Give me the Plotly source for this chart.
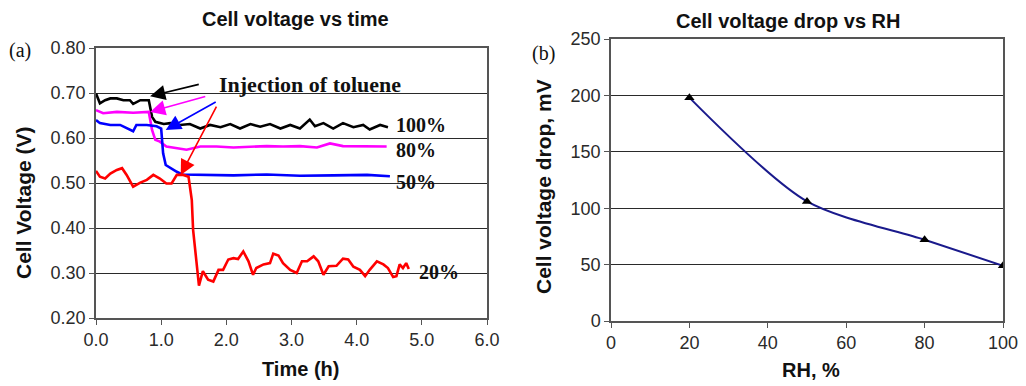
import plotly.graph_objects as go

# ---- Panel (a): cell voltage vs time ----
t_100 = [0.00, 0.06, 0.14, 0.22, 0.32, 0.42, 0.52, 0.57, 0.68, 0.81, 0.86, 0.91, 1.04, 1.14, 1.29, 1.44,
         1.60, 1.75, 1.91, 2.06, 2.21, 2.37, 2.52, 2.67, 2.83, 2.98, 3.13, 3.28, 3.36, 3.49, 3.64, 3.79,
         3.95, 4.10, 4.20, 4.36, 4.48]
v_100 = [0.699, 0.677, 0.684, 0.688, 0.688, 0.684, 0.684, 0.676, 0.684, 0.684, 0.647, 0.636, 0.631, 0.633,
         0.629, 0.631, 0.621, 0.629, 0.624, 0.631, 0.621, 0.631, 0.625, 0.631, 0.621, 0.629, 0.621, 0.641,
         0.626, 0.633, 0.621, 0.633, 0.624, 0.629, 0.619, 0.629, 0.624]

t_80 = [0.00, 0.11, 0.32, 0.57, 0.81, 0.86, 0.91, 0.98, 1.08, 1.24, 1.39, 1.60, 1.85, 2.11, 2.37, 2.62,
        2.87, 3.13, 3.39, 3.59, 3.79, 4.05, 4.31, 4.46]
v_80 = [0.662, 0.655, 0.658, 0.656, 0.658, 0.618, 0.596, 0.592, 0.581, 0.578, 0.574, 0.581, 0.581, 0.579,
        0.581, 0.582, 0.581, 0.582, 0.579, 0.588, 0.582, 0.581, 0.581, 0.581]

t_50 = [0.00, 0.06, 0.22, 0.37, 0.57, 0.62, 0.78, 0.93, 1.00, 1.03, 1.07, 1.14, 1.24, 1.32, 1.60, 2.11,
        2.62, 3.13, 3.64, 4.16, 4.51]
v_50 = [0.640, 0.633, 0.629, 0.629, 0.615, 0.629, 0.629, 0.626, 0.621, 0.566, 0.540, 0.533, 0.525, 0.519,
        0.518, 0.517, 0.519, 0.516, 0.517, 0.518, 0.515]

t_20 = [0.00, 0.06, 0.14, 0.22, 0.32, 0.40, 0.47, 0.57, 0.68, 0.78, 0.88, 0.98, 1.08, 1.16, 1.24, 1.34,
        1.42, 1.47, 1.49, 1.58, 1.64, 1.72, 1.80, 1.88, 1.95, 2.03, 2.11, 2.18, 2.26, 2.34, 2.41, 2.46,
        2.57, 2.67, 2.72, 2.80, 2.87, 2.98, 3.08, 3.16, 3.24, 3.34, 3.41, 3.49, 3.57, 3.69, 3.79, 3.87,
        3.95, 4.05, 4.13, 4.20, 4.31, 4.41, 4.48, 4.56, 4.61, 4.66, 4.71, 4.76, 4.80]
v_20 = [0.527, 0.514, 0.510, 0.521, 0.529, 0.533, 0.518, 0.492, 0.501, 0.507, 0.518, 0.510, 0.499, 0.499,
        0.518, 0.518, 0.514, 0.462, 0.396, 0.272, 0.304, 0.285, 0.281, 0.307, 0.307, 0.330, 0.333, 0.331,
        0.348, 0.326, 0.296, 0.311, 0.319, 0.322, 0.343, 0.339, 0.322, 0.307, 0.300, 0.326, 0.326, 0.337,
        0.326, 0.296, 0.315, 0.316, 0.332, 0.330, 0.314, 0.307, 0.293, 0.307, 0.326, 0.319, 0.311, 0.291,
        0.293, 0.319, 0.311, 0.322, 0.309]

series_a = [
    ("100%", t_100, v_100, "#000000"),
    ("80%", t_80, v_80, "#FF00FF"),
    ("50%", t_50, v_50, "#0000FF"),
    ("20%", t_20, v_20, "#FF0000"),
]

# label positions (time, voltage) for series tags
label_pos = {"100%": (4.57, 0.629), "80%": (4.57, 0.573), "50%": (4.58, 0.502), "20%": (4.92, 0.302)}

# arrows: tail (t, v) -> head (t, v)
arrows = [
    ("#000000", (1.60, 0.720), (0.83, 0.693)),
    ("#FF00FF", (1.70, 0.693), (0.83, 0.658)),
    ("#0000FF", (1.86, 0.682), (1.07, 0.618)),
    ("#FF0000", (1.86, 0.673), (1.30, 0.518)),
]

# ---- Panel (b): voltage drop vs RH ----
rh = [20, 50, 80, 100]
drop_mv = [198, 106, 72, 49]

# page has an 8px body margin; figure sized to fit the window
OFF = 8
W, H = 1026 - OFF, 386 - OFF


def px(x):
    return (x - OFF) / W


def py(y):
    return 1 - (y - OFF) / H


fig = go.Figure()

for name, t, v, c in series_a:
    fig.add_trace(go.Scatter(x=t, y=v, mode="lines", line=dict(color=c, width=2.6),
                             name=name, xaxis="x", yaxis="y", showlegend=False))

fig.add_trace(go.Scatter(x=rh, y=drop_mv, mode="lines+markers",
                         line=dict(color="#1A1A8C", width=2, shape="spline", smoothing=0.8),
                         marker=dict(symbol="triangle-up", size=9, color="#000000"),
                         xaxis="x2", yaxis="y2", showlegend=False))

sans = "Liberation Sans, Arial, sans-serif"
serif = "Liberation Serif, Times New Roman, serif"
axis_common = dict(showline=True, linecolor="#555555", linewidth=1.5, mirror=True,
                   ticks="outside", ticklen=5, tickcolor="#555555", automargin=False,
                   tickfont=dict(family=sans, size=18, color="#2a2a2a"),
                   zeroline=False)

fig.update_layout(
    width=W, height=H,
    margin=dict(l=0, r=0, t=0, b=0, autoexpand=False),
    paper_bgcolor="white", plot_bgcolor="white",
    xaxis=dict(domain=[px(96), px(487)], range=[0, 6], dtick=1, tickformat=".1f",
               anchor="y", showgrid=False, **axis_common),
    yaxis=dict(domain=[py(318), py(48)], range=[0.2, 0.8], dtick=0.1, tickformat=".2f",
               anchor="x", showgrid=True, gridcolor="#2a2a2a", gridwidth=1.3, **axis_common),
    xaxis2=dict(domain=[px(611), px(1003)], range=[0, 100], dtick=20,
                anchor="y2", showgrid=False, **axis_common),
    yaxis2=dict(domain=[py(321), py(39)], range=[0, 250], dtick=50,
                anchor="x2", showgrid=True, gridcolor="#2a2a2a", gridwidth=1.3, **axis_common),
)

ann = []
tfont = dict(family=sans, size=20, color="#111111")
vfont = dict(family=sans, size=21, color="#111111")


def paper_text(text, x, y, font, angle=0):
    return dict(text=text, x=px(x), y=py(y), xref="paper", yref="paper", xanchor="center",
                yanchor="middle", textangle=angle, showarrow=False, font=font)


# titles
ann.append(paper_text("<b>Cell voltage vs time</b>", 295, 19, tfont))
ann.append(paper_text("<b>Cell voltage drop vs RH</b>", 788, 21, tfont))
# axis titles
ann.append(paper_text("<b>Cell Voltage (V)</b>", 23, 203, vfont, -90))
ann.append(paper_text("<b>Time (h)</b>", 300, 369, tfont))
ann.append(paper_text("<b>Cell voltage drop, mV</b>", 544, 187, vfont, -90))
ann.append(paper_text("<b>RH, %</b>", 811, 370, tfont))
# panel letters
ann.append(paper_text("(a)", 20, 51, dict(family=serif, size=20, color="#111111")))
ann.append(paper_text("(b)", 543, 53, dict(family=serif, size=20, color="#111111")))
# injection text
ann.append(dict(text="<b>Injection of toluene</b>", x=1.85, y=0.718, xref="x", yref="y",
                xanchor="left", yanchor="middle", showarrow=False,
                font=dict(family=serif, size=22, color="#111111")))
# arrows
for c, (tx, ty), (hx, hy) in arrows:
    ann.append(dict(x=hx, y=hy, ax=tx, ay=ty, xref="x", yref="y", axref="x", ayref="y",
                    text="", showarrow=True, arrowhead=2, arrowsize=1.9, arrowwidth=1.6,
                    arrowcolor=c))
# series labels
for name, (lx, ly) in label_pos.items():
    ann.append(dict(text="<b>" + name + "</b>", x=lx, y=ly, xref="x", yref="y", xanchor="left",
                    yanchor="middle", showarrow=False, font=dict(family=serif, size=20, color="#111111")))

fig.update_layout(annotations=ann)
fig.write_html("out.html")
